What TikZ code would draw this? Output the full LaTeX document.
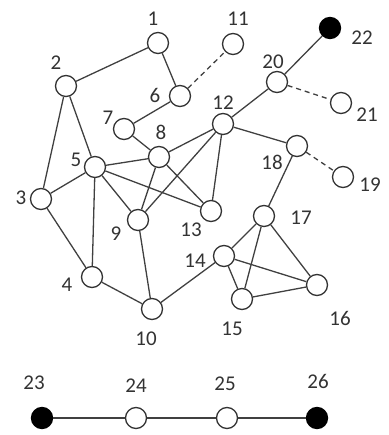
\documentclass[tikz,border=0pt]{standalone}
\usepackage{fontspec}
\setmainfont{Carlito}
\begin{document}
\begin{tikzpicture}[x=1pt,y=-1pt,
  vtx/.style={circle,draw=black!80,line width=1.3pt,fill=white,minimum size=21pt,inner sep=0pt},
  blk/.style={vtx,fill=black,draw=black},
  lab/.style={font=\fontsize{21}{21}\selectfont,text=black!80,inner sep=0pt},
  edge/.style={draw=black!75,line width=1.3pt},
  dedge/.style={edge,dash pattern=on 5pt off 4pt}]
\useasboundingbox (0,0) rectangle (388,435);
\foreach \n/\x/\y in {1/158/43,2/66/86,3/41/199,4/92/277,5/95/167,6/180/96,7/124/129,8/159/157,9/138/220,10/152/309,11/233/44,12/223/124,13/211/211,14/224/256,15/242/299,16/317/285,17/264/216,18/297/146,19/343/177,20/277/82,21/341/103,24/136/418,25/227/418}
  \node[vtx] (n\n) at (\x,\y) {};
\node[blk] (n22) at (330,28) {};
\node[blk] (n23) at (42,418) {};
\node[blk] (n26) at (317,418) {};
\foreach \a/\b in {1/2,1/6,6/7,7/8,2/3,2/5,3/5,3/4,5/4,5/8,5/9,5/13,8/12,8/9,8/13,12/9,12/13,12/20,12/18,18/17,20/22,17/14,17/15,17/16,14/15,14/16,15/16,14/10,10/9,10/4,23/24,24/25,25/26}
  \draw[edge] (n\a) -- (n\b);
\foreach \a/\b in {6/11,18/19,20/21}
  \draw[dedge] (n\a) -- (n\b);
\foreach \n/\x/\y in {1/153/19,2/56/63,3/21/198,4/67/285,5/76/160,6/155/95,7/108/118,8/161/132,9/116/234,10/146/339,11/238/19,12/223/103,13/191/230,14/195/261,15/232/329,16/340/318,17/301/218,18/272/162,19/370/185,20/273/62,21/367/115,22/362/38,23/34/383,24/136/386,25/225/384,26/318/381}
  \node[lab] (l\n) at (\x,\y) {\n};
\end{tikzpicture}
\end{document}
